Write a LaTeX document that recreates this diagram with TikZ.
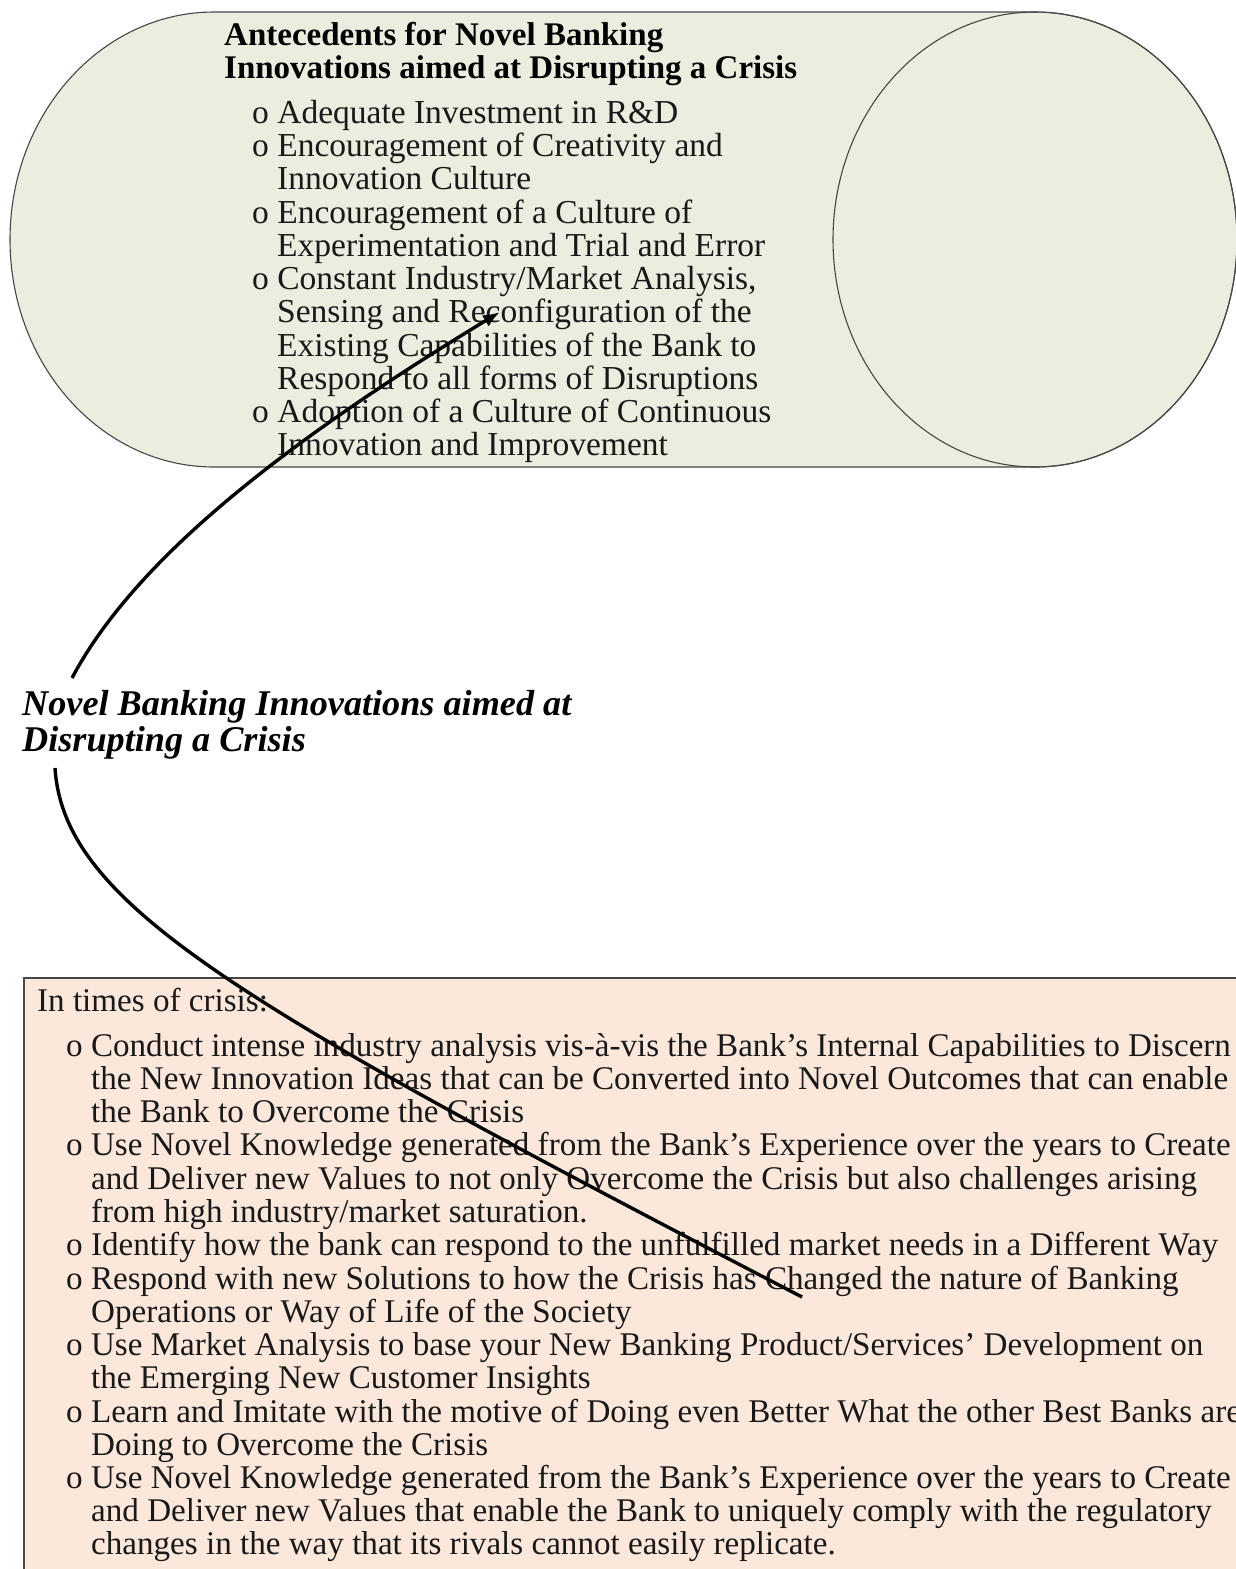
\documentclass[tikz,border=0pt]{standalone}
\usepackage{fontspec}
\setmainfont{Liberation Serif}
\usetikzlibrary{arrows.meta}
\definecolor{cylfill}{RGB}{234,238,223}
\definecolor{boxfill}{RGB}{252,232,219}
\definecolor{edgecol}{RGB}{70,70,70}
\newcommand\bodyfnt{\fontsize{33.5}{33.5}\selectfont}
\newcommand\boxfnt{\fontsize{33.1}{33.1}\selectfont}
\newcommand\titlefnt{\fontsize{33}{33}\selectfont\bfseries}
\newcommand\labelfnt{\fontsize{36.2}{36.2}\selectfont\bfseries\itshape}
\begin{document}
\begin{tikzpicture}[x=1pt,y=-1pt,
  line/.style={anchor=base west,inner sep=0pt,font=\bodyfnt,text=black!90},
  bline/.style={anchor=base west,inner sep=0pt,font=\boxfnt,text=black!90},
  ttl/.style={anchor=base west,inner sep=0pt,font=\titlefnt},
  lbl/.style={anchor=base west,inner sep=0pt,font=\labelfnt},
  shapeedge/.style={draw=edgecol,line width=1.1pt},
  conn/.style={line width=3.4pt,black}]
\useasboundingbox (0,0) rectangle (1236,1569);
\clip (0,0) rectangle (1236,1569);
% cylinder
\path[shapeedge,fill=cylfill] (1035,12) -- (214,12)
  arc[start angle=90,end angle=270,x radius=204pt,y radius=227.5pt]
  -- (1035,467)
  arc[start angle=-90,end angle=90,x radius=202pt,y radius=227.5pt] -- cycle;
\draw[shapeedge] (1035,239.5) ellipse [x radius=202pt,y radius=227.5pt];
% bottom box
\path[shapeedge,fill=boxfill] (24,978) rectangle (1260,1600);
% cylinder text
\node[ttl] (t1) at (224,45) {Antecedents for Novel Banking};
\node[ttl] (t2) at (224,78) {Innovations aimed at Disrupting a Crisis};
\node[line] (a1) at (252,123) {o Adequate Investment in R\&D};
\node[line] (a2) at (252,156) {o Encouragement of Creativity and};
\node[line] (a3) at (277,189) {Innovation Culture};
\node[line] (a4) at (252,223) {o Encouragement of a Culture of};
\node[line] (a5) at (277,256) {Experimentation and Trial and Error};
\node[line] (a6) at (252,289) {o Constant Industry/Market Analysis,};
\node[line] (a7) at (277,322) {Sensing and Reconfiguration of the};
\node[line] (a8) at (277,356) {Existing Capabilities of the Bank to};
\node[line] (a9) at (277,389) {Respond to all forms of Disruptions};
\node[line] (a10) at (252,422) {o Adoption of a Culture of Continuous};
\node[line] (a11) at (277,455) {Innovation and Improvement};
% middle label
\node[lbl] (m1) at (22,715) {Novel Banking Innovations aimed at};
\node[lbl] (m2) at (22,751) {Disrupting a Crisis};
% box text
\node[bline] (b0) at (37,1011) {In times of crisis:};
\node[bline] (b1) at (66,1056) {o Conduct intense industry analysis vis-à-vis the Bank's Internal Capabilities to Discern};
\node[bline] (b2) at (91,1089) {the New Innovation Ideas that can be Converted into Novel Outcomes that can enable};
\node[bline] (b3) at (91,1122) {the Bank to Overcome the Crisis};
\node[bline] (b4) at (66,1155) {o Use Novel Knowledge generated from the Bank's Experience over the years to Create};
\node[bline] (b5) at (91,1189) {and Deliver new Values to not only Overcome the Crisis but also challenges arising};
\node[bline] (b6) at (91,1222) {from high industry/market saturation.};
\node[bline] (b7) at (66,1255) {o Identify how the bank can respond to the unfulfilled market needs in a Different Way};
\node[bline] (b8) at (66,1289) {o Respond with new Solutions to how the Crisis has Changed the nature of Banking};
\node[bline] (b9) at (91,1322) {Operations or Way of Life of the Society};
\node[bline] (b10) at (66,1355) {o Use Market Analysis to base your New Banking Product/Services' Development on};
\node[bline] (b11) at (91,1388) {the Emerging New Customer Insights};
\node[bline] (b12) at (66,1422) {o Learn and Imitate with the motive of Doing even Better What the other Best Banks are};
\node[bline] (b13) at (91,1455) {Doing to Overcome the Crisis};
\node[bline] (b14) at (66,1488) {o Use Novel Knowledge generated from the Bank's Experience over the years to Create};
\node[bline] (b15) at (91,1521) {and Deliver new Values that enable the Bank to uniquely comply with the regulatory};
\node[bline] (b16) at (91,1554) {changes in the way that its rivals cannot easily replicate.};
% connectors
\coordinate (c1s) at (72,678);
\coordinate (c1e) at (500,312);
\coordinate (c2s) at (55,768);
\coordinate (c2e) at (802,1297);
\draw[conn,-{Latex[length=17pt,width=13pt]}] (c1s) .. controls (132,565) and (272,450) .. (c1e);
\draw[conn] (c2s) .. controls (64,905) and (240,1005) .. (c2e);
\end{tikzpicture}
\end{document}
